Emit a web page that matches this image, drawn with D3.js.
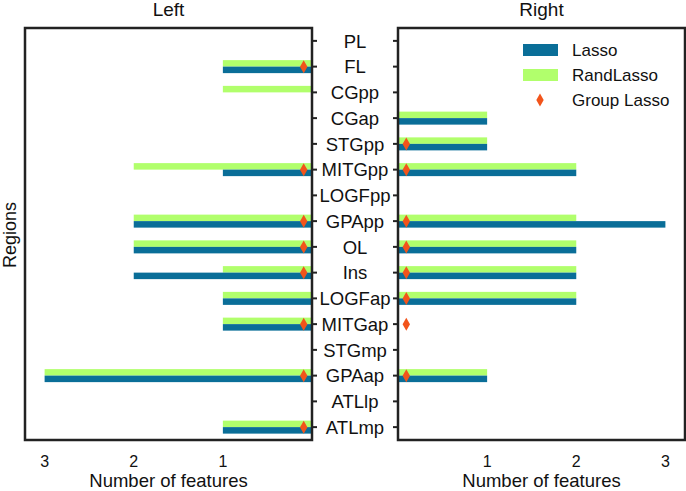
<!DOCTYPE html>
<html><head><meta charset="utf-8">
<script src="https://cdn.jsdelivr.net/npm/d3@7"></script>
<style>body{margin:0;background:#fff}svg{display:block;font-family:"Liberation Sans",Arial,sans-serif}</style>
</head><body><svg id="c" width="686" height="491"></svg>
<script>
const regions = ["PL","FL","CGpp","CGap","STGpp","MITGpp","LOGFpp","GPApp","OL","Ins","LOGFap","MITGap","STGmp","GPAap","ATLlp","ATLmp"];
const leftLasso     = [0,1,0,0,0,1,0,2,2,2,1,1,0,3,0,1];
const leftRandLasso = [0,1,1,0,0,2,0,2,2,1,1,1,0,3,0,1];
const leftGroup     = [0,1,0,0,0,1,0,1,1,1,0,1,0,1,0,1];
const rightLasso     = [0,0,0,1,1,2,0,3,2,2,2,0,0,1,0,0];
const rightRandLasso = [0,0,0,1,1,2,0,2,2,2,2,0,0,1,0,0];
const rightGroup     = [0,0,0,0,1,1,0,1,1,1,1,1,0,1,0,0];
const xTicks = [1,2,3];
const groupMarkerValue = 0.093;

const blue = "#0a6e98", green = "#b1ff6c", orange = "#f2541b", dark = "#222";
const svg = d3.select("#c");
const plotTop = 28, plotBottom = 440;
const y = d3.scalePoint().domain(regions).range([plotTop, plotBottom]).padding(0.5);
const bh = 6.5;

const panels = [
  {title:"Left", x:d3.scaleLinear().domain([0,3.22]).range([312,25]), lasso:leftLasso, rand:leftRandLasso, group:leftGroup},
  {title:"Right", x:d3.scaleLinear().domain([0,3.22]).range([398,685]), lasso:rightLasso, rand:rightRandLasso, group:rightGroup}
];

function dpath(cx, cy){ return `M${cx},${cy-6.5}L${cx+3.7},${cy}L${cx},${cy+6.5}L${cx-3.7},${cy}Z`; }

panels.forEach((p, pi) => {
  const g = svg.append("g");
  const x0 = p.x(0);
  const rd = regions.map((r,i)=>({r, lasso:p.lasso[i], rand:p.rand[i], grp:p.group[i]}));
  g.selectAll(".rand").data(rd.filter(d=>d.rand>0)).join("rect")
    .attr("x", d=>Math.min(x0,p.x(d.rand))).attr("width", d=>Math.abs(p.x(d.rand)-x0))
    .attr("y", d=>y(d.r)-bh).attr("height", bh).attr("fill", green);
  g.selectAll(".lasso").data(rd.filter(d=>d.lasso>0)).join("rect")
    .attr("x", d=>Math.min(x0,p.x(d.lasso))).attr("width", d=>Math.abs(p.x(d.lasso)-x0))
    .attr("y", d=>y(d.r)).attr("height", bh).attr("fill", blue);
  g.selectAll(".grp").data(rd.filter(d=>d.grp>0)).join("path")
    .attr("d", d=>dpath(p.x(groupMarkerValue), y(d.r))).attr("fill", orange);
  const [a,b] = p.x.range();
  g.append("rect").attr("x",Math.min(a,b)).attr("y",plotTop).attr("width",Math.abs(b-a)).attr("height",plotBottom-plotTop)
    .attr("fill","none").attr("stroke",dark).attr("stroke-width",2.5);
  const tx = pi===0 ? 312 : 398, dir = pi===0 ? 1 : -1;
  g.selectAll(".yt").data(regions).join("line")
    .attr("x1", tx).attr("x2", tx+dir*5).attr("y1", d=>y(d)).attr("y2", d=>y(d))
    .attr("stroke", dark).attr("stroke-width", 2);
  g.selectAll(".xt").data(xTicks).join("text")
    .attr("x", d=>p.x(d)).attr("y", 467).attr("text-anchor","middle")
    .attr("font-size",16).attr("fill","#111").text(d=>d);
  const cx = (a+b)/2;
  g.append("text").attr("x",cx).attr("y",487).attr("text-anchor","middle").attr("font-size",18.5).attr("fill","#111").text("Number of features");
  g.append("text").attr("x",cx).attr("y",16).attr("text-anchor","middle").attr("font-size",19).attr("fill","#111").text(p.title);
});

svg.selectAll(".cat").data(regions).join("text")
  .attr("x", 355).attr("y", d=>y(d)).attr("dy","0.36em").attr("text-anchor","middle")
  .attr("font-size",18.5).attr("fill","#111").text(d=>d);

svg.append("text").attr("transform","translate(16,235) rotate(-90)").attr("text-anchor","middle")
  .attr("font-size",18).attr("fill","#111").text("Regions");

const legend = [{label:"Lasso", type:"rect", color:blue},{label:"RandLasso", type:"rect", color:green},{label:"Group Lasso", type:"diamond", color:orange}];
const lg = svg.append("g");
legend.forEach((l,i)=>{
  const cy = 50 + i*25;
  if (l.type==="rect") lg.append("rect").attr("x",523).attr("y",cy-6).attr("width",35).attr("height",12).attr("fill",l.color);
  else lg.append("path").attr("d",dpath(540,cy)).attr("fill",l.color);
  lg.append("text").attr("x",572).attr("y",cy).attr("dy","0.36em").attr("font-size",17).attr("fill","#111").text(l.label);
});
</script></body></html>
